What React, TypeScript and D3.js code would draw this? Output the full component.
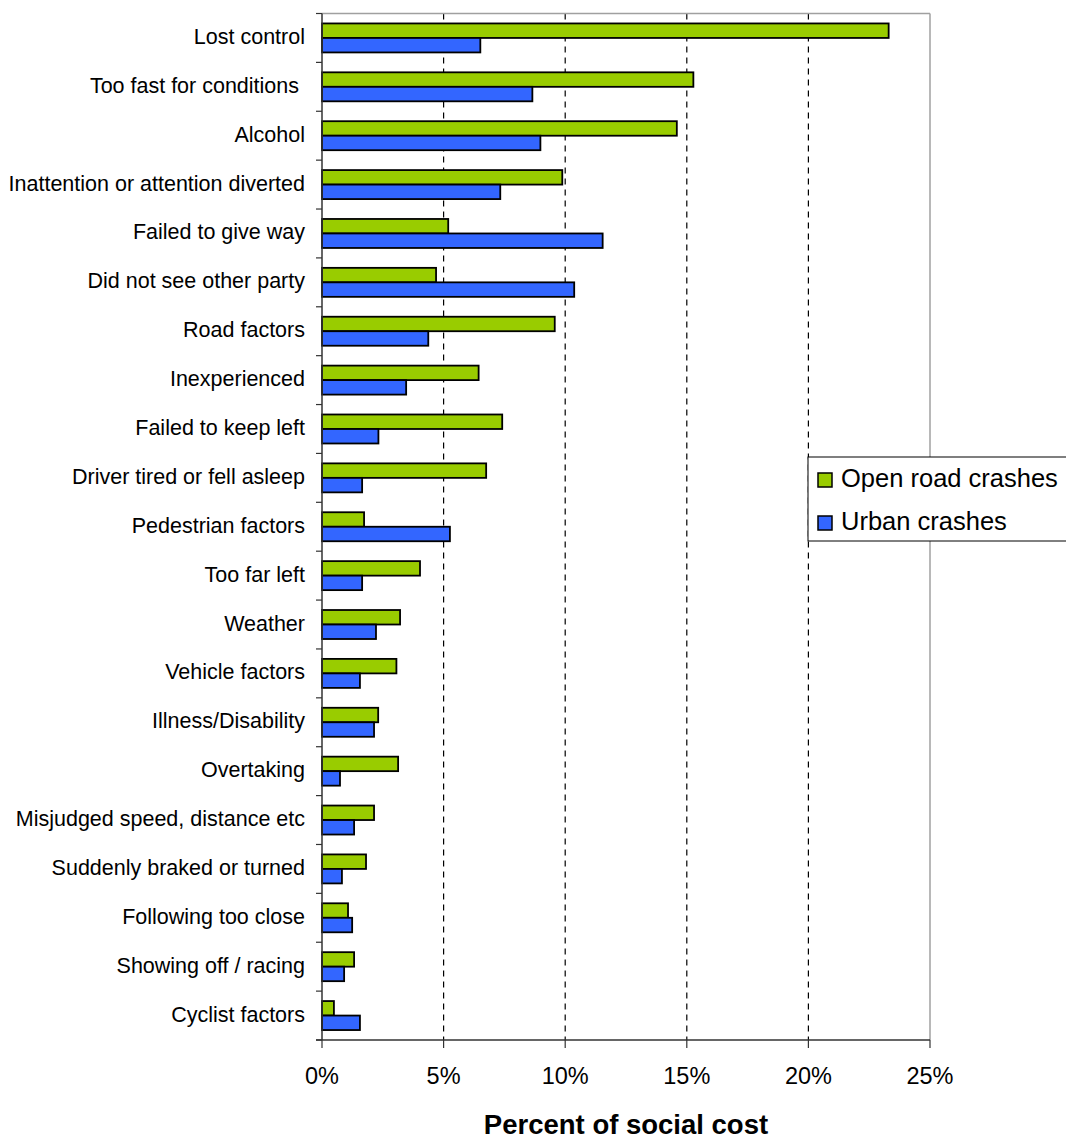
import React from "react";
import * as d3 from "d3";

const categories = [
  "Lost control",
  "Too fast for conditions ",
  "Alcohol",
  "Inattention or attention diverted",
  "Failed to give way",
  "Did not see other party",
  "Road factors",
  "Inexperienced",
  "Failed to keep left",
  "Driver tired or fell asleep",
  "Pedestrian factors",
  "Too far left",
  "Weather",
  "Vehicle factors",
  "Illness/Disability",
  "Overtaking",
  "Misjudged speed, distance etc",
  "Suddenly braked or turned",
  "Following too close",
  "Showing off / racing",
  "Cyclist factors",
];

const openRoad = [23.3, 15.27, 14.59, 9.88, 5.19, 4.69, 9.57, 6.44, 7.41, 6.75, 1.73, 4.03, 3.21, 3.06, 2.31, 3.13, 2.14, 1.81, 1.07, 1.32, 0.49];
const urban = [6.51, 8.65, 8.98, 7.33, 11.54, 10.37, 4.37, 3.46, 2.32, 1.65, 5.26, 1.65, 2.22, 1.56, 2.14, 0.74, 1.32, 0.82, 1.24, 0.91, 1.56];

const seriesNames = ["Open road crashes", "Urban crashes"];
const seriesColors = ["#99CC00", "#3366FF"];
const xTicks = [0, 5, 10, 15, 20, 25];
const xTitle = "Percent of social cost";

const W = 1066;
const H = 1139;
const left = 322;
const right = 930;
const top = 13.5;
const bottom = 1040;

export default function App() {
  const x = d3.scaleLinear().domain([0, 25]).range([left, right]);
  const y = d3.scaleBand<string>().domain(categories).range([top, bottom]).padding(0);
  const sub = d3
    .scaleBand<number>()
    .domain([0, 1])
    .range([0, y.step()])
    .paddingInner(0)
    .paddingOuter(0.686);
  const series = [openRoad, urban];
  const font = "Arial, 'Liberation Sans', Helvetica, sans-serif";
  const boundaries = d3.range(categories.length + 1).map((i) => top + i * y.step());

  return (
    <svg
      width={W}
      height={H}
      style={{ position: "absolute", left: 0, top: 0, display: "block", background: "#fff" }}
      fontFamily={font}
    >
      {/* gridlines */}
      {xTicks.slice(1, -1).map((t) => (
        <line key={"g" + t} x1={x(t)} x2={x(t)} y1={top} y2={bottom} stroke="#000" strokeWidth={1.2} strokeDasharray="6,5" />
      ))}
      {/* plot border top/right */}
      <line x1={left} x2={right} y1={top} y2={top} stroke="#a0a0a0" strokeWidth={1.5} />
      <line x1={right} x2={right} y1={top} y2={bottom} stroke="#a0a0a0" strokeWidth={1.5} />

      {/* bars */}
      {series.map((vals, si) =>
        categories.map((c, i) => (
          <rect
            key={si + "-" + i}
            x={x(0)}
            y={(y(c) as number) + (sub(si) as number)}
            width={x(vals[i]) - x(0)}
            height={sub.bandwidth()}
            fill={seriesColors[si]}
            stroke="#000"
            strokeWidth={1.8}
          />
        ))
      )}

      {/* left axis */}
      <line x1={left} x2={left} y1={top} y2={bottom} stroke="#333" strokeWidth={1.5} />
      {boundaries.map((b, i) => (
        <line key={"yt" + i} x1={left - 6} x2={left} y1={b} y2={b} stroke="#333" strokeWidth={1.2} />
      ))}
      {categories.map((c) => (
        <text
          key={"l" + c}
          x={305}
          y={(y(c) as number) + y.step() / 2 + 6}
          textAnchor="end"
          fontSize={21.5}
          fill="#000"
          style={{ whiteSpace: "pre" }}
        >
          {c}
        </text>
      ))}

      {/* bottom axis */}
      <line x1={left - 6} x2={right} y1={bottom} y2={bottom} stroke="#333" strokeWidth={1.5} />
      {xTicks.map((t) => (
        <g key={"xt" + t}>
          <line x1={x(t)} x2={x(t)} y1={bottom} y2={bottom + 8} stroke="#333" strokeWidth={1.2} />
          <text x={x(t)} y={1084} textAnchor="middle" fontSize={23.5} fill="#000">
            {t + "%"}
          </text>
        </g>
      ))}
      <text x={(left + right) / 2} y={1134} textAnchor="middle" fontSize={27.5} fontWeight="bold" fill="#000">
        {xTitle}
      </text>

      {/* legend */}
      <rect x={808} y={457} width={280} height={84} fill="#fff" stroke="#000" strokeWidth={1} />
      {seriesNames.map((n, i) => (
        <g key={"lg" + n}>
          <rect x={818} y={473 + i * 43} width={14} height={14} fill={seriesColors[i]} stroke="#000" strokeWidth={1.5} />
          <text x={841} y={487 + i * 42.5} fontSize={25.5} fill="#000">
            {n}
          </text>
        </g>
      ))}
    </svg>
  );
}
